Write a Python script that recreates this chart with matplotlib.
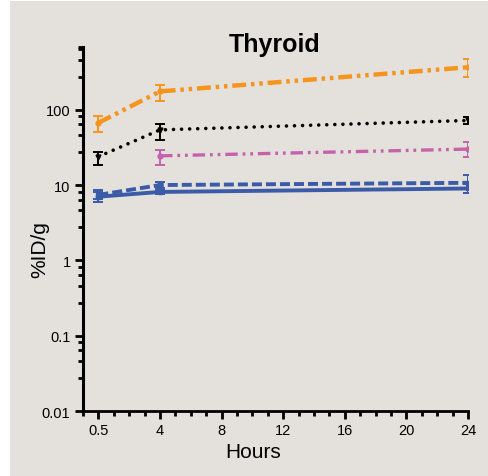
import matplotlib
matplotlib.use('Agg')
import matplotlib.pyplot as plt
import matplotlib.ticker as ticker
from matplotlib.patches import Rectangle

plt.rcParams['font.family'] = ['Liberation Sans', 'DejaVu Sans']
plt.rcParams['lines.scale_dashes'] = False

# Data
hours = [0.5, 4, 24]
x_labels = ['0.5', '4', '8', '12', '16', '20', '24']

orange_y = [67, 175, 366]
orange_lo = [51, 132, 270]
orange_hi = [83, 215, 474]

black_y = [23.8, 54, 72]
black_lo = [18.5, 40, 64.5]
black_hi = [27.8, 64, 80]

pink_hours = [4, 24]
pink_y = [24.4, 30]
pink_lo = [18.5, 23.8]
pink_hi = [29, 37]

bdash_y = [7.4, 10, 10.7]
bdash_lo = [6.6, 9.2, 7.8]
bdash_hi = [8.2, 10.9, 13.6]

bsolid_y = [7.0, 8.1, 9.0]
bsolid_lo = [6.0, 7.6, 7.9]
bsolid_hi = [8.6, 8.7, 10.2]

# the 0.5 h point sits on the axis origin in the original chart
def xpos(h_list):
    return [0 if h == 0.5 else h for h in h_list]

def errs(y, lo, hi):
    return [[a - b for a, b in zip(y, lo)], [b - a for a, b in zip(y, hi)]]

bg = '#E4E1DC'
fig = plt.figure(figsize=(4.88, 4.77), dpi=100)
fig.patch.set_facecolor('white')
fig.patches.append(Rectangle((10 / 488, 0), 1, 475 / 477, transform=fig.transFigure,
                             facecolor=bg, edgecolor='none', zorder=-10))
ax = fig.add_axes([83 / 488, 65 / 477, 385 / 488, 364 / 477])
ax.set_facecolor('none')

series = [
    (hours, bsolid_y, bsolid_lo, bsolid_hi, '#3B5BA9', 's', 2.8, None, 'butt'),
    (hours, bdash_y, bdash_lo, bdash_hi, '#3B5BA9', 's', 2.8, (0, (7.2, 2.9)), 'butt'),
    (pink_hours, pink_y, pink_lo, pink_hi, '#C463AA', 'o', 2.4, (0, (9, 3.5, 2, 3.5, 2, 3.5)), 'butt'),
    (hours, black_y, black_lo, black_hi, 'black', 'v', 2.6, (0, (0.01, 5.8)), 'round'),
    (hours, orange_y, orange_lo, orange_hi, '#F7941E', 'o', 3.2, (0, (10, 3.5, 2.5, 3.5, 2.5, 3.5)), 'butt'),
]
for h, y, lo, hi, col, mk, lw, ls, cap in series:
    ax.errorbar(xpos(h), y, yerr=errs(y, lo, hi), color=col, ecolor=col, elinewidth=1.4,
                capsize=3.5, capthick=1.4, fmt='none', zorder=3)
    line, = ax.plot(xpos(h), y, color=col, lw=lw, marker=mk, markersize=3.5,
                    solid_capstyle='butt', zorder=4)
    if ls is not None:
        line.set_linestyle(ls)
        line.set_dash_capstyle(cap)

ax.set_yscale('log')
ax.set_ylim(0.01, 680)
ax.set_xlim(-1, 24)

ax.set_xticks(range(0, 25, 4))
ax.set_xticklabels(x_labels)
ax.xaxis.set_minor_locator(ticker.MultipleLocator(1))
ax.set_yticks([0.01, 0.1, 1, 10, 100])
ax.set_yticklabels(['0.01', '0.1', '1', '10', '100'])
minor = []
for d in [0.01, 0.1, 1, 10, 100]:
    for m in [2.75, 4.6, 6.4, 8.15]:
        minor.append(d * m)
minor.append(680)
ax.yaxis.set_minor_locator(ticker.FixedLocator(minor))
ax.yaxis.set_minor_formatter(ticker.NullFormatter())

ax.tick_params(axis='both', which='major', length=6, width=2, labelsize=10.5, pad=3, color='black')
ax.tick_params(axis='both', which='minor', length=3.5, width=2, color='black')

for s in ['top', 'right']:
    ax.spines[s].set_visible(False)
ax.spines['left'].set_linewidth(2.2)
ax.spines['bottom'].set_linewidth(2.0)

fig.text(275 / 488, 1 - 45 / 477, 'Thyroid', ha='center', va='center',
         fontsize=18, fontweight='bold')
fig.text(253 / 488, 1 - 453 / 477, 'Hours', ha='center', va='center', fontsize=15)
fig.text(40 / 488, 1 - 250 / 477, '%ID/g', ha='center', va='center', fontsize=15, rotation=90)

fig.savefig('out.png', dpi=100, facecolor=fig.get_facecolor())
